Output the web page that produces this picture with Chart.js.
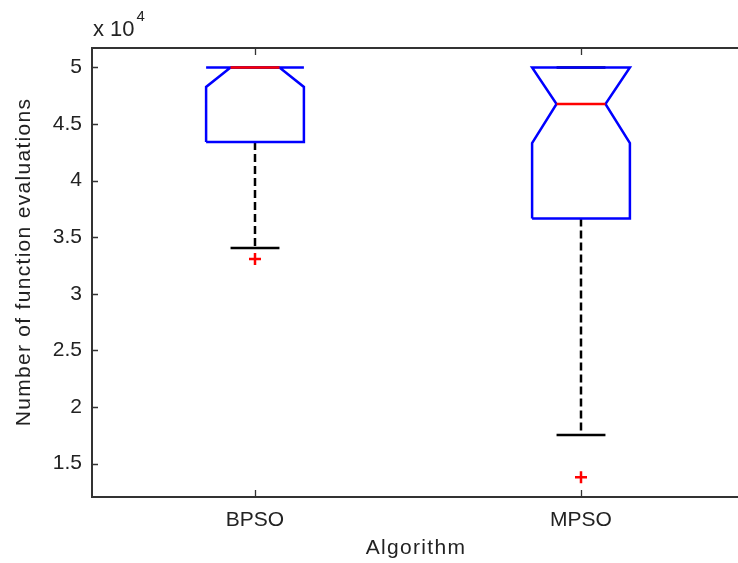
<!DOCTYPE html>
<html>
<head>
<meta charset="utf-8">
<script src="https://cdn.jsdelivr.net/npm/chart.js@4/dist/chart.umd.min.js"></script>
<style>
  html, body { margin: 0; padding: 0; background: #fff; overflow: hidden; }
  canvas { display: block; }
</style>
</head>
<body>
<canvas id="box" width="738" height="563"></canvas>
<script>
// values (function evaluations)
const categories = ['BPSO', 'MPSO'];
const q1 = [43410, 36650];
const median = [50000, 46770];
const q3 = [50000, 50000];
const notchLow = [48280, 43320];
const notchHigh = [50000, 50000];
const whiskerLow = [34040, 17510];
const whiskerHigh = [50000, 50000];
const outliers = [[33070], [13790]];
const yTicks = [15000, 20000, 25000, 30000, 35000, 40000, 45000, 50000];

const FONT = 'Liberation Sans, Arial, Helvetica, sans-serif';
const boxHalf = 0.15;
const notchHalf = 0.075;

// build polylines (null breaks the line between groups)
const boxPts = [], medPts = [], whiskPts = [], capPts = [], outPts = [];
categories.forEach((c, i) => {
  const x = i + 1;
  const lo = Math.max(notchLow[i], q1[i]);
  const hi = Math.min(notchHigh[i], q3[i]);
  boxPts.push(
    { x: x - boxHalf, y: q1[i] }, { x: x - boxHalf, y: lo }, { x: x - notchHalf, y: median[i] },
    { x: x - boxHalf, y: hi }, { x: x - boxHalf, y: q3[i] }, { x: x + boxHalf, y: q3[i] },
    { x: x + boxHalf, y: hi }, { x: x + notchHalf, y: median[i] }, { x: x + boxHalf, y: lo },
    { x: x + boxHalf, y: q1[i] }, { x: x - boxHalf, y: q1[i] }, { x: x, y: null }
  );
  medPts.push({ x: x - notchHalf, y: median[i] }, { x: x + notchHalf, y: median[i] }, { x: x, y: null });
  whiskPts.push({ x: x, y: q1[i] }, { x: x, y: whiskerLow[i] }, { x: x, y: null });
  whiskPts.push({ x: x, y: q3[i] }, { x: x, y: whiskerHigh[i] }, { x: x, y: null });
  capPts.push({ x: x - notchHalf, y: whiskerLow[i] }, { x: x + notchHalf, y: whiskerLow[i] }, { x: x, y: null });
  capPts.push({ x: x - notchHalf, y: whiskerHigh[i] }, { x: x + notchHalf, y: whiskerHigh[i] }, { x: x, y: null });
  outliers[i].forEach(v => outPts.push({ x: x, y: v }));
});

const lineSet = (data, color, width, order, dash) => ({
  data, borderColor: color, borderWidth: width, borderDash: dash || [],
  showLine: true, spanGaps: false, pointRadius: 0, tension: 0, order, fill: false,
});

// frame, inward ticks, axis titles and the exponent label
const matlabAxes = {
  id: 'matlabAxes',
  afterDraw(chart) {
    const { ctx, chartArea: a, scales: { x, y } } = chart;
    ctx.save();
    ctx.strokeStyle = '#333';
    ctx.lineWidth = 2;
    ctx.beginPath();
    ctx.moveTo(a.right + 4, a.top); ctx.lineTo(a.left, a.top);
    ctx.lineTo(a.left, a.bottom); ctx.lineTo(a.right + 4, a.bottom);
    ctx.stroke();
    ctx.lineWidth = 1.3;
    ctx.beginPath();
    y.ticks.forEach(t => {
      const py = Math.round(y.getPixelForValue(t.value)) + 0.5;
      ctx.moveTo(a.left, py); ctx.lineTo(a.left + 6, py);
    });
    x.ticks.forEach(t => {
      const px = Math.round(x.getPixelForValue(t.value)) + 0.5;
      ctx.moveTo(px, a.bottom); ctx.lineTo(px, a.bottom - 7);
      ctx.moveTo(px, a.top); ctx.lineTo(px, a.top + 7);
    });
    ctx.stroke();

    ctx.fillStyle = '#222';
    ctx.font = '21px ' + FONT;
    ctx.letterSpacing = '1.3px';
    ctx.textAlign = 'center';
    ctx.textBaseline = 'middle';
    ctx.fillText('Algorithm', 416, 548);
    ctx.save();
    ctx.translate(24, 262);
    ctx.rotate(-Math.PI / 2);
    ctx.fillText('Number of function evaluations', 0, 0);
    ctx.restore();

    ctx.letterSpacing = '0px';
    ctx.textBaseline = 'alphabetic';
    ctx.textAlign = 'left';
    ctx.font = '22px ' + FONT;
    ctx.fillText('x 10', a.left + 1, a.top - 12);
    const w = ctx.measureText('x 10').width;
    ctx.font = '15px ' + FONT;
    ctx.fillText('4', a.left + 3 + w, a.top - 27);
    ctx.restore();
  }
};

new Chart(document.getElementById('box'), {
  type: 'scatter',
  data: {
    datasets: [
      lineSet(whiskPts, '#000', 2.5, 5, [8, 4]),
      lineSet(capPts, '#000', 2.5, 4),
      lineSet(boxPts, '#0000ff', 2.5, 3),
      lineSet(medPts, '#ff0000', 2.5, 2),
      {
        data: outPts, pointStyle: 'cross', pointRadius: 6, pointBorderWidth: 2.5,
        borderColor: '#ff0000', backgroundColor: '#ff0000', showLine: false, order: 1,
      },
    ],
  },
  options: {
    responsive: false,
    devicePixelRatio: 1,
    animation: false,
    layout: { autoPadding: false, padding: { top: 48, left: 0, right: 0, bottom: 0 } },
    plugins: { legend: { display: false }, tooltip: { enabled: false } },
    scales: {
      x: {
        type: 'linear', min: 0.5, max: 2.4816,
        grid: { display: false, drawTicks: false }, border: { display: false },
        afterBuildTicks: s => { s.ticks = categories.map((c, i) => ({ value: i + 1 })); },
        afterFit: s => { s.height = 66; s.paddingLeft = 0; s.paddingRight = 0; },
        ticks: {
          padding: 11, color: '#222', font: { family: FONT, size: 21 },
          callback: v => categories[v - 1],
        },
      },
      y: {
        type: 'linear', min: 12040, max: 51720,
        grid: { display: false, drawTicks: false }, border: { display: false },
        afterBuildTicks: s => { s.ticks = yTicks.map(v => ({ value: v })); },
        afterFit: s => { s.width = 92; s.paddingTop = 0; s.paddingBottom = 0; },
        ticks: {
          padding: 10, color: '#222', font: { family: FONT, size: 21 },
          callback: v => String(v / 10000),
        },
      },
    },
  },
  plugins: [matlabAxes],
});
</script>
</body>
</html>
